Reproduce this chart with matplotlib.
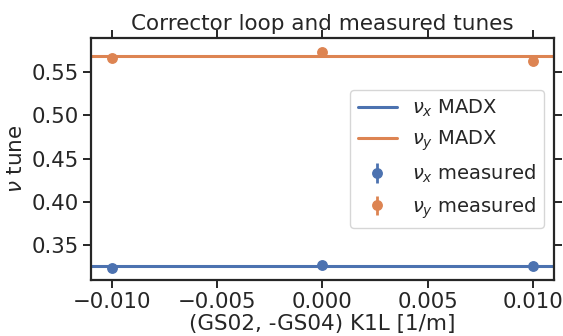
import numpy as np
import matplotlib
matplotlib.use("Agg")
import matplotlib.pyplot as plt
import seaborn as sns

sns.set_theme(style="ticks", palette="deep")
plt.rcParams.update({
    "xtick.top": True,
    "ytick.right": True,
    "font.size": 15,
    "axes.titlesize": 15.5,
    "axes.labelsize": 15.5,
    "xtick.labelsize": 15.3,
    "ytick.labelsize": 15.3,
    "legend.fontsize": 14,
    "xtick.major.size": 5.5,
    "ytick.major.size": 5.5,
    "axes.linewidth": 1.6,
    "xtick.major.width": 1.4,
    "ytick.major.width": 1.4,
})

# Corrector strengths scanned and measured tunes
k1l = [-0.010, 0.000, 0.010]
qx_meas = [0.3230, 0.3268, 0.3256]
qy_meas = [0.5662, 0.5739, 0.5627]
qx_err = [0.0010, 0.0010, 0.0010]
qy_err = [0.0010, 0.0010, 0.0010]

# MADX model tunes along the corrector loop
k1l_model = [-0.012, 0.012]
qx_madx = [0.3260, 0.3260]
qy_madx = [0.5692, 0.5692]

blue, orange = sns.color_palette("deep")[:2]

fig, ax = plt.subplots(figsize=(5.63, 3.36), dpi=100)
ax.plot(k1l_model, qx_madx, color=blue, lw=2.2, label=r"$\nu_x$ MADX")
ax.plot(k1l_model, qy_madx, color=orange, lw=2.2, label=r"$\nu_y$ MADX")
ax.errorbar(k1l, qx_meas, yerr=qx_err, fmt="o", color=blue, ms=6.8,
            elinewidth=2, label=r"$\nu_x$ measured")
ax.errorbar(k1l, qy_meas, yerr=qy_err, fmt="o", color=orange, ms=6.8,
            elinewidth=2, label=r"$\nu_y$ measured")

ax.set_xlim(-0.011, 0.011)
ax.set_ylim(0.3095, 0.5894)
ax.set_xticks([-0.010, -0.005, 0.000, 0.005, 0.010])
ax.set_yticks([0.35, 0.40, 0.45, 0.50, 0.55])
ax.set_title("Corrector loop and measured tunes")
ax.set_xlabel("(GS02, -GS04) K1L [1/m]", labelpad=1)
ax.set_ylabel(r"$\nu$ tune")
ax.legend(loc="center right")

fig.subplots_adjust(left=91/563, right=553.7/563, top=1-38.3/336, bottom=1-280/336)
fig.savefig("out.png", dpi=100)
